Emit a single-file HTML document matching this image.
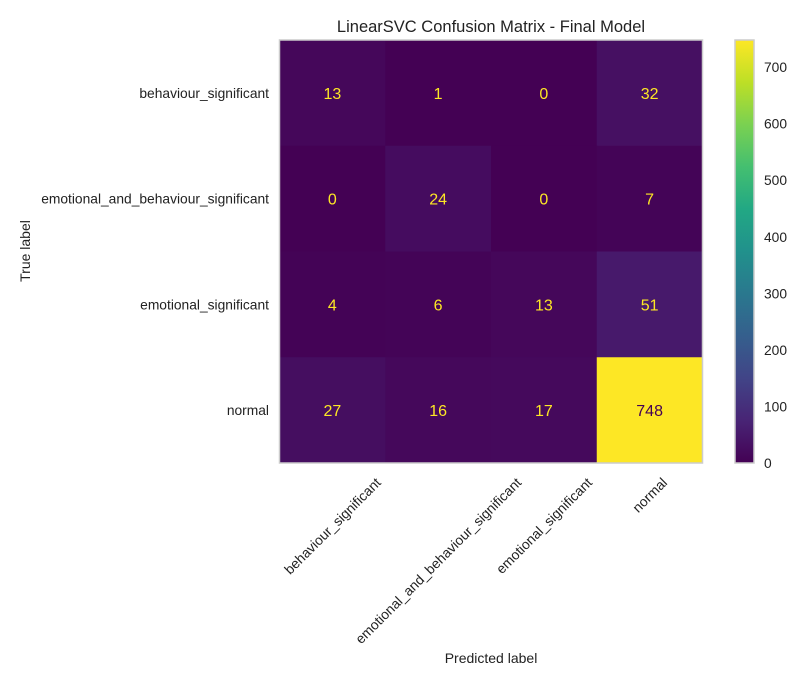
<!DOCTYPE html>
<html><head><meta charset="utf-8"><style>
body{margin:0;background:#fff;}
svg text{font-family:"Liberation Sans",Arial,sans-serif;}
</style></head><body>
<svg id="chart" width="808" height="685">
<defs><linearGradient id="vir" x1="0" y1="1" x2="0" y2="0">
<stop offset="0" stop-color="#440154"/><stop offset="0.1" stop-color="#482475"/><stop offset="0.2" stop-color="#414487"/><stop offset="0.3" stop-color="#355f8d"/><stop offset="0.4" stop-color="#2a788e"/><stop offset="0.5" stop-color="#21918c"/><stop offset="0.6" stop-color="#22a884"/><stop offset="0.7" stop-color="#44bf70"/><stop offset="0.8" stop-color="#7ad151"/><stop offset="0.9" stop-color="#bddf26"/><stop offset="1" stop-color="#fde725"/>
</linearGradient></defs>
<text x="491" y="32" font-size="16.5" text-anchor="middle" fill="#222">LinearSVC Confusion Matrix - Final Model</text>
<g id="cells"></g>
<rect x="279.5" y="40" width="423" height="423" fill="none" stroke="#ccc" stroke-width="1.5"/>
<rect x="735" y="40" width="19" height="423" fill="url(#vir)" stroke="#ccc" stroke-width="1.5"/>
<g id="cbticks"></g>
<g id="labels"></g>
<text x="491" y="663" font-size="14" text-anchor="middle" fill="#222">Predicted label</text>
<text transform="translate(30,251) rotate(-90)" font-size="14" text-anchor="middle" fill="#222">True label</text>
</svg>
<script>
const categories=["behaviour_significant","emotional_and_behaviour_significant","emotional_significant","normal"];
const row0=[13,1,0,32];
const row1=[0,24,0,7];
const row2=[4,6,13,51];
const row3=[27,16,17,748];
const cbTicks=[0,100,200,300,400,500,600,700];
const matrix=[row0,row1,row2,row3];
const NS="http://www.w3.org/2000/svg";
const X0=279.5,Y0=40,S=423,n=categories.length,cw=S/n;
let vmin=Infinity,vmax=-Infinity;matrix.forEach(r=>r.forEach(v=>{vmin=Math.min(vmin,v);vmax=Math.max(vmax,v);}));
const stops=["#440154","#482475","#414487","#355f8d","#2a788e","#21918c","#22a884","#44bf70","#7ad151","#bddf26","#fde725"];
function hex(h){return [1,3,5].map(i=>parseInt(h.substr(i,2),16));}
function vir(t){t=Math.max(0,Math.min(1,t))*10;const i=Math.min(9,Math.floor(t)),f=t-i;const a=hex(stops[i]),b=hex(stops[i+1]);return `rgb(${a.map((c,k)=>Math.round(c+(b[k]-c)*f)).join(",")})`;}
function xs(j){return X0+j*cw;}function ys(i){return Y0+i*cw;}
function cy(v){return 463-(v-vmin)/(vmax-vmin)*423;}
const cells=document.getElementById('cells');
matrix.forEach((r,i)=>r.forEach((v,j)=>{
 const rc=document.createElementNS(NS,'rect');
 rc.setAttribute('x',xs(j));rc.setAttribute('y',ys(i));rc.setAttribute('width',cw+0.5);rc.setAttribute('height',cw+0.5);
 rc.setAttribute('fill',vir((v-vmin)/(vmax-vmin)));
 
 
 cells.appendChild(rc);
 const t=document.createElementNS(NS,'text');
 t.setAttribute('x',xs(j)+cw/2);t.setAttribute('y',ys(i)+cw/2+6);t.setAttribute('font-size','16');t.setAttribute('text-anchor','middle');
 t.setAttribute('fill',v>(vmax+vmin)/2?'#440154':'#fde725');t.textContent=v;
 
 
 cells.appendChild(t);
}));
const cb=document.getElementById('cbticks');
cbTicks.forEach(v=>{const t=document.createElementNS(NS,'text');t.setAttribute('x',764);t.setAttribute('y',cy(v)+5);t.setAttribute('font-size','13.8');t.setAttribute('fill','#222');t.textContent=v;
 
 
 cb.appendChild(t);});
const lab=document.getElementById('labels');
categories.forEach((c,i)=>{
 const t=document.createElementNS(NS,'text');t.setAttribute('x',269);t.setAttribute('y',ys(i)+cw/2+5);t.setAttribute('font-size','13.8');t.setAttribute('text-anchor','end');t.setAttribute('fill','#222');t.textContent=c;
 
 
 lab.appendChild(t);
 const u=document.createElementNS(NS,'text');
 u.setAttribute('font-size','13.8');u.setAttribute('text-anchor','middle');u.setAttribute('fill','#222');u.textContent=c;
 
 
 lab.appendChild(u);
 const L=u.getComputedTextLength();
 const x=xs(i)+cw/2, y=472+L*0.7071/2+8;
 u.setAttribute('transform',`translate(${x},${y}) rotate(-45) translate(0,5)`);
});
</script>
</body></html>
